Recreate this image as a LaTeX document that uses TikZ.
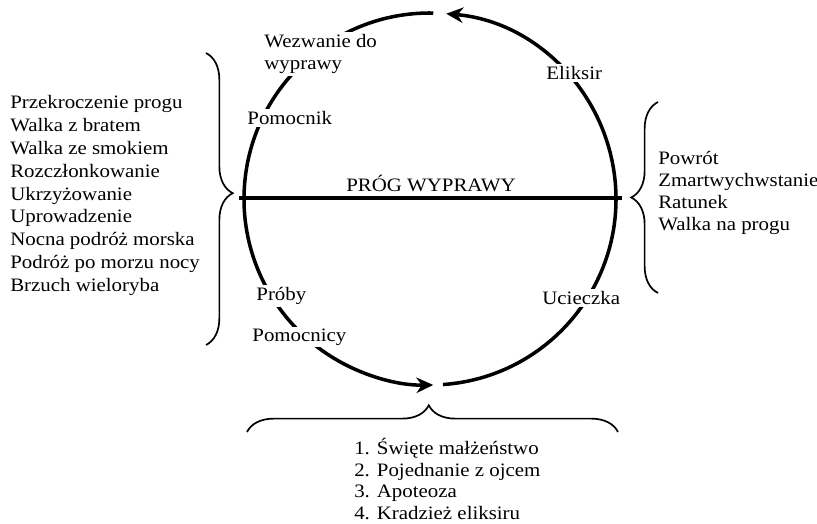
\documentclass[tikz,border=0pt]{standalone}
\usepackage{fontspec}
\setmainfont{Liberation Serif}[FakeStretch=1.1]
\usetikzlibrary{arrows.meta, decorations.pathreplacing}

\begin{document}
\begin{tikzpicture}[x=0.025cm, y=0.025cm,
        lbl/.style={fill=white, inner sep=1.5pt, anchor=west, font=\fontsize{13.5}{15.5}\selectfont},
        lst/.style={inner sep=0pt, anchor=west, align=left, font=\fontsize{13.5}{15.5}\selectfont},
        brc/.style={decorate, decoration={brace, amplitude=19pt}, line width=1.2pt},
        arc/.style={line width=2.5pt, -{Stealth[length=12pt, width=11pt]}}]
                \useasboundingbox (0, 0) rectangle (817, -524);
                \coordinate (c) at (430, -199);

                \draw[arc] ([shift={(89:186)}]c) arc (89:271:186);
                \draw[arc] ([shift={(-86:186)}]c) arc (-86:85:186);

                \coordinate (thl) at (239, -198);
                \coordinate (thr) at (622, -198);
                \draw[line width=2.8pt] (thl) -- (thr);
                \node[lbl, anchor=center, fill=none] (prog) at (431, -183) {PRÓG WYPRAWY};

                \node[lbl, align=left] (wezw) at (262, -54) {Wezwanie do\\wyprawy};
                \node[lbl] (pomk) at (245, -118) {Pomocnik};
                \node[lbl] (elik) at (544, -73) {Eliksir};
                \node[lbl] (proby) at (254, -296) {Próby};
                \node[lbl] (pomc) at (250, -337) {Pomocnicy};
                \node[lbl] (ucie) at (540, -298) {Ucieczka};

                \coordinate (lbt) at (206, -53);
                \coordinate (lbb) at (206, -345);
                \draw[brc, decoration={aspect=0.48}] (lbt) -- (lbb);
                \coordinate (rbb) at (658, -293);
                \coordinate (rbt) at (658, -102);
                \draw[brc] (rbb) -- (rbt);
                \coordinate (bbl) at (247, -432);
                \coordinate (bbr) at (618, -432);
                \draw[brc, decoration={aspect=0.49}] (bbl) -- (bbr);

                \node[lst, font=\fontsize{13.5}{16.3}\selectfont] (przejscie) at (10, -195.5) {Przekroczenie progu\\Walka z bratem\\Walka ze smokiem\\Rozczłonkowanie\\Ukrzyżowanie\\Uprowadzenie\\Nocna podróż morska\\Podróż po morzu nocy\\Brzuch wieloryba};
                \node[lst] (powrot) at (658, -193) {Powrót\\Zmartwychwstanie\\Ratunek\\Walka na progu};
                \node[lst] (nagroda) at (354, -479) {1. Święte małżeństwo\\2. Pojednanie z ojcem\\3. Apoteoza\\4. Kradzież eliksiru};
            \end{tikzpicture}
\end{document}
